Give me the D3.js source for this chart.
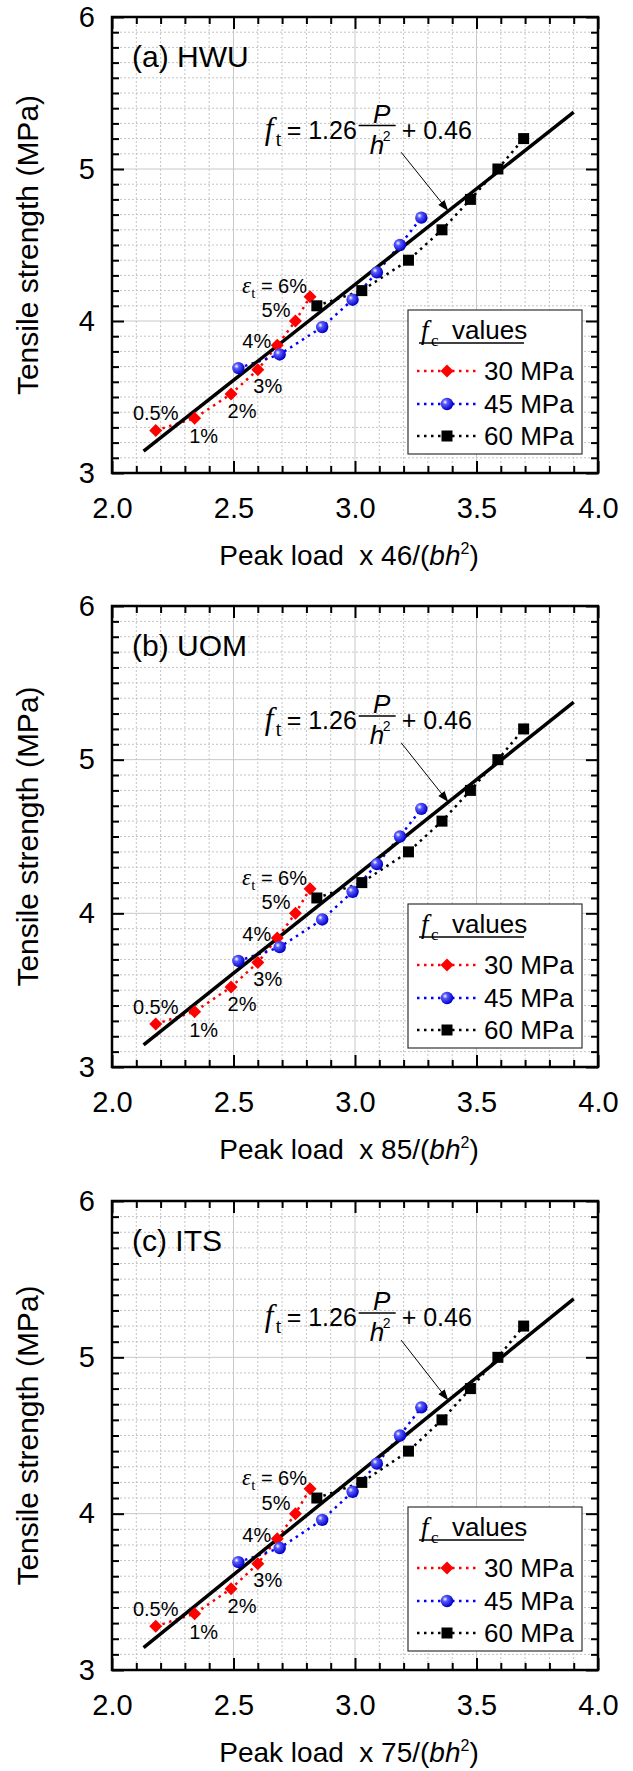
<!DOCTYPE html>
<html>
<head>
<meta charset="utf-8">
<script src="https://cdn.jsdelivr.net/npm/d3@7"></script>
<style>
  body { margin: 0; background: #fff; }
  text { font-family: "Liberation Sans", Arial, sans-serif; fill: #000; }
  .serif { font-family: "Liberation Serif", "Times New Roman", serif; }
</style>
</head>
<body>
<svg id="chart" width="633" height="1771"></svg>
<script>
// ---- data ----
const panelNames = ["(a) HWU", "(b) UOM", "(c) ITS"];
const loadFactors = ["46", "85", "75"];
const xTicks = [2.0, 2.5, 3.0, 3.5, 4.0];
const yTicks = [3, 4, 5, 6];

const strainLabels = ["0.5%", "1%", "2%", "3%", "4%", "5%", "6%"];
const fc30X = [2.18, 2.34, 2.49, 2.60, 2.68, 2.755, 2.815];
const fc30Y = [3.28, 3.36, 3.52, 3.68, 3.84, 4.00, 4.16];
const fc45X = [2.52, 2.69, 2.865, 2.99, 3.09, 3.185, 3.273];
const fc45Y = [3.69, 3.78, 3.96, 4.14, 4.32, 4.50, 4.68];
const fc60X = [2.843, 3.028, 3.22, 3.358, 3.475, 3.588, 3.694];
const fc60Y = [4.10, 4.20, 4.40, 4.60, 4.80, 5.00, 5.20];
const seriesNames = ["30 MPa", "45 MPa", "60 MPa"];

// fitted line f_t = 1.26 P/h^2 + 0.46
const fitSlope = 1.26;
const fitIntercept = 0.46;
const fitRange = [2.13, 3.90];

// ---- layout ----
const plotLeft = 112, plotRight = 598;
const panelTops = [17, 606, 1201];
const panelBottoms = [473, 1067, 1670];

const svg = d3.select("#chart");
const defs = svg.append("defs");

//shaded sphere for the 45 MPa markers
const grad = defs.append("radialGradient")
  .attr("id", "sphere").attr("cx", "35%").attr("cy", "35%").attr("r", "65%");
grad.append("stop").attr("offset", "0%").attr("stop-color", "#ffffff");
grad.append("stop").attr("offset", "30%").attr("stop-color", "#5a5aff");
grad.append("stop").attr("offset", "100%").attr("stop-color", "#0000c8");

const series = [
  { xs: fc30X, ys: fc30Y, color: "#ff0000", shape: "diamond" },
  { xs: fc45X, ys: fc45Y, color: "#0000ff", shape: "sphere" },
  { xs: fc60X, ys: fc60Y, color: "#000000", shape: "square" }
];

// label offsets (px) for the strain annotations on the 30 MPa series
const strainOffsets = [
  { dx: 0, dy: -10, anchor: "middle" },
  { dx: 9, dy: 25, anchor: "middle" },
  { dx: 11, dy: 24, anchor: "middle" },
  { dx: 10, dy: 23, anchor: "middle" },
  { dx: -6, dy: 3, anchor: "end" },
  { dx: -5, dy: -4, anchor: "end" },
  { dx: -3, dy: -4, anchor: "end" }
];

function drawMarker(g, shape, cx, cy, color) {
  if (shape === "diamond") {
    const s = 6.5;
    g.append("polygon")
      .attr("points", `${cx},${cy - s} ${cx + s},${cy} ${cx},${cy + s} ${cx - s},${cy}`)
      .attr("fill", color);
  } else if (shape === "sphere") {
    g.append("circle").attr("cx", cx).attr("cy", cy).attr("r", 6.2)
      .attr("fill", "url(#sphere)");
  } else {
    g.append("rect").attr("x", cx - 5.5).attr("y", cy - 5.5)
      .attr("width", 11).attr("height", 11).attr("fill", color);
  }
}

function drawPanel(idx) {
  const top = panelTops[idx], bottom = panelBottoms[idx];
  const g = svg.append("g");

  const x = d3.scaleLinear().domain([2, 4]).range([plotLeft, plotRight]);
  const y = d3.scaleLinear().domain([3, 6]).range([bottom, top]);

  const xMinor = d3.range(21).map(i => 2 + i * 0.1);
  const yMinor = d3.range(31).map(i => 3 + i * 0.1);
  const isMajorX = v => Math.abs(v * 2 - Math.round(v * 2)) < 1e-6;
  const isMajorY = v => Math.abs(v - Math.round(v)) < 1e-6;

  //grid
  const grid = g.append("g");
  xMinor.forEach(v => {
    const major = isMajorX(v);
    grid.append("line")
      .attr("x1", x(v)).attr("x2", x(v)).attr("y1", top).attr("y2", bottom)
      .attr("stroke", major ? "#c8c8c8" : "#c4c4c4")
      .attr("stroke-width", 1)
      .attr("stroke-dasharray", major ? null : "2,2");
  });
  yMinor.forEach(v => {
    const major = isMajorY(v);
    grid.append("line")
      .attr("x1", plotLeft).attr("x2", plotRight).attr("y1", y(v)).attr("y2", y(v))
      .attr("stroke", major ? "#c8c8c8" : "#c4c4c4")
      .attr("stroke-width", 1)
      .attr("stroke-dasharray", major ? null : "2,2");
  });

  //dotted connecting lines
  const line = d3.line().x(d => x(d[0])).y(d => y(d[1]));
  series.forEach(s => {
    g.append("path")
      .attr("d", line(s.xs.map((v, i) => [v, s.ys[i]])))
      .attr("fill", "none")
      .attr("stroke", s.color)
      .attr("stroke-width", 2.5)
      .attr("stroke-dasharray", "2.5,4.5");
  });

  //fitted line
  g.append("line")
    .attr("x1", x(fitRange[0])).attr("y1", y(fitSlope * fitRange[0] + fitIntercept))
    .attr("x2", x(fitRange[1])).attr("y2", y(fitSlope * fitRange[1] + fitIntercept))
    .attr("stroke", "#000").attr("stroke-width", 3.5);

  //markers
  series.forEach(s => {
    s.xs.forEach((v, i) => drawMarker(g, s.shape, x(v), y(s.ys[i]), s.color));
  });

  //strain labels
  strainLabels.forEach((lab, i) => {
    const o = strainOffsets[i];
    const t = g.append("text")
      .attr("x", x(fc30X[i]) + o.dx)
      .attr("y", y(fc30Y[i]) + o.dy)
      .attr("text-anchor", o.anchor)
      .style("font-size", "20px");
    if (i === strainLabels.length - 1) {
      t.append("tspan").attr("class", "serif").style("font-style", "italic")
        .style("font-size", "23px").text("ε");
      t.append("tspan").attr("class", "serif").style("font-size", "15px")
        .attr("dy", 5).text("t");
      t.append("tspan").attr("dy", -5).text(" = " + lab);
    } else {
      t.text(lab);
    }
  });

  //equation
  const eq = g.append("g")
    .attr("transform", `translate(${x(2.62)},${y(5.2)})`);
  eq.append("text").attr("class", "serif").attr("x", 2).attr("y", 0)
    .style("font-style", "italic").style("font-size", "31px").text("f");
  eq.append("text").attr("class", "serif").attr("x", 13).attr("y", 7)
    .style("font-size", "20px").text("t");
  eq.append("text").attr("x", 24).attr("y", 0).style("font-size", "25px").text("= 1.26");
  eq.append("line").attr("x1", 96).attr("x2", 133).attr("y1", -13).attr("y2", -13)
    .attr("stroke", "#000").attr("stroke-width", 1.5);
  eq.append("text").attr("x", 119).attr("y", -16).attr("text-anchor", "middle")
    .style("font-size", "26px").style("font-style", "italic").text("P");
  eq.append("text").attr("x", 107).attr("y", 15)
    .style("font-size", "26px").style("font-style", "italic").text("h");
  eq.append("text").attr("x", 120).attr("y", 2)
    .style("font-size", "14px").text("2");
  eq.append("text").attr("x", 139).attr("y", 0).style("font-size", "25px").text("+ 0.46");

  //arrow to the fitted line
  const ax0 = x(3.19), ay0 = y(5.11);
  const axEnd = 3.384;
  const ax1 = x(axEnd), ay1 = y(fitSlope * axEnd + fitIntercept);
  const ang = Math.atan2(ay1 - ay0, ax1 - ax0) * 180 / Math.PI;
  g.append("line")
    .attr("x1", ax0).attr("y1", ay0).attr("x2", ax1 - 8 * Math.cos(ang * Math.PI / 180))
    .attr("y2", ay1 - 8 * Math.sin(ang * Math.PI / 180))
    .attr("stroke", "#000").attr("stroke-width", 1);
  g.append("polygon")
    .attr("points", "0,0 -11,-4 -11,4")
    .attr("fill", "#000")
    .attr("transform", `translate(${ax1},${ay1}) rotate(${ang})`);

  //panel label
  g.append("text").attr("x", 132).attr("y", top + 50)
    .style("font-size", "30px").text(panelNames[idx]);

  //legend
  const lw = 174, lh = 144;
  const lx = plotRight - 16 - lw, ly = bottom - 19 - lh;
  const leg = g.append("g").attr("transform", `translate(${lx},${ly})`);
  leg.append("rect").attr("width", lw).attr("height", lh)
    .attr("fill", "#fff").attr("stroke", "#333").attr("stroke-width", 1.2);
  leg.append("text").attr("class", "serif").attr("x", 13).attr("y", 29)
    .style("font-style", "italic").style("font-size", "27px").text("f");
  leg.append("text").attr("class", "serif").attr("x", 23).attr("y", 36)
    .style("font-size", "17px").text("c");
  leg.append("text").attr("x", 44).attr("y", 29)
    .style("font-size", "26px").text("values");
  leg.append("line").attr("x1", 11).attr("x2", 116).attr("y1", 33).attr("y2", 33)
    .attr("stroke", "#000").attr("stroke-width", 1.5);
  const rowY = [61, 94, 126];
  series.forEach((s, i) => {
    leg.append("line").attr("x1", 9).attr("x2", 69).attr("y1", rowY[i]).attr("y2", rowY[i])
      .attr("stroke", s.color).attr("stroke-width", 2.5).attr("stroke-dasharray", "2.5,4.5");
    drawMarker(leg, s.shape, 39, rowY[i], s.color);
    leg.append("text").attr("x", 76).attr("y", rowY[i]).attr("dy", "0.36em")
      .style("font-size", "26px").text(seriesNames[i]);
  });

  //frame
  g.append("rect")
    .attr("x", plotLeft).attr("y", top)
    .attr("width", plotRight - plotLeft).attr("height", bottom - top)
    .attr("fill", "none").attr("stroke", "#000").attr("stroke-width", 2.5);

  //inward ticks on all four sides
  const minorX = xMinor.filter(v => !isMajorX(v));
  const minorY = yMinor.filter(v => !isMajorY(v));
  const makers = [
    () => d3.axisBottom(x), () => d3.axisTop(x),
    () => d3.axisLeft(y), () => d3.axisRight(y)
  ];
  const trs = [`translate(0,${bottom})`, `translate(0,${top})`,
    `translate(${plotLeft},0)`, `translate(${plotRight},0)`];
  makers.forEach((mk, k) => {
    const minor = k < 2 ? minorX : minorY;
    const major = k < 2 ? xTicks : yTicks;
    const labels = k === 0 || k === 2;

    const gm = g.append("g").attr("transform", trs[k])
      .call(mk().tickValues(minor).tickSize(-7).tickSizeOuter(0).tickFormat(""));
    gm.select(".domain").remove();
    gm.selectAll("line").attr("stroke-width", 2);

    const ga = g.append("g").attr("transform", trs[k])
      .call(mk().tickValues(major).tickSize(-12).tickSizeOuter(0)
        .tickPadding(k < 2 ? 24 : 17)
        .tickFormat(labels ? (k < 2 ? d3.format(".1f") : d3.format("d")) : ""));
    ga.select(".domain").remove();
    ga.selectAll("line").attr("stroke-width", 2);
    ga.selectAll("text")
      .style("font-family", "'Liberation Sans', Arial, sans-serif")
      .style("font-size", "29px").attr("fill", "#000");
  });

  //axis titles
  const xt = g.append("text")
    .attr("x", 349).attr("y", bottom + 92)
    .attr("text-anchor", "middle")
    .style("font-size", "28px").style("white-space", "pre");
  xt.append("tspan").text("Peak load  x " + loadFactors[idx] + "/(");
  xt.append("tspan").style("font-style", "italic").text("bh");
  xt.append("tspan").attr("dy", -11).style("font-size", "16px").text("2");
  xt.append("tspan").attr("dy", 11).text(")");

  g.append("text")
    .attr("transform", `translate(38,${(top + bottom) / 2}) rotate(-90)`)
    .attr("text-anchor", "middle")
    .style("font-size", "30px")
    .text("Tensile strength (MPa)");
}

panelNames.forEach((_, i) => drawPanel(i));
</script>
</body>
</html>
